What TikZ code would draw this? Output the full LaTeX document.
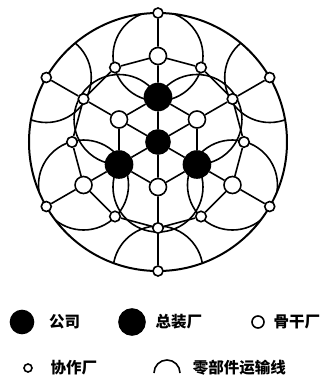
\documentclass[tikz,border=0pt]{standalone}
\usepackage{fontspec}
\newfontfamily\cjk{Noto Sans CJK SC}
\usetikzlibrary{positioning}
\newcommand\Clr{black}
\newcommand\Sz{10pt}
\tikzset{
  hub/.style={circle, draw, inner sep=0pt},
  lbl/.style={font=\cjk\bfseries\fontsize{15.5}{18}\selectfont, inner sep=2pt},
}

\begin{document}
\begin{tikzpicture}[x=1pt, y=1pt, line width=1.6pt]
  \useasboundingbox (-158,142) rectangle (169,-242);
  % transport lines
  \begin{scope}[even odd rule]
    \clip (0,0) circle (129) (30:45) -- (90:45) -- (150:45) -- (210:45) -- (270:45) -- (330:45) -- cycle;
    \foreach \a in {30,150,270}{
      \draw (\a:129) circle (45);
      \draw (\a:45) circle (45);
      \draw ({\a+60}:86) circle (45);
    }
  \end{scope}
  \draw[line width=2pt] (0,0) circle (129);
  % factories
  \node[hub, fill=black, minimum size=24pt] (c) at (0,0) {};
  \foreach \i in {1,...,6}{
    \ifodd\i
      \renewcommand\Clr{white}\renewcommand\Sz{17pt}
    \else
      \renewcommand\Clr{black}\renewcommand\Sz{27pt}
    \fi
    \node[hub, fill=\Clr, minimum size=\Sz] (h\i) at ({\i*60-30}:45) {};
    \node[hub, fill=white, minimum size=10pt] (o\i) at ({\i*60-30}:129) {};
  }
  \foreach \i in {1,...,12}{
    \ifnum\ifnum\i=3 1\else\ifnum\i=7 1\else\ifnum\i=11 1\else0\fi\fi\fi =1
      \renewcommand\Sz{17pt}
    \else
      \renewcommand\Sz{10.5pt}
    \fi
    \node[hub, fill=white, minimum size=\Sz] (m\i) at ({\i*30}:86) {};
  }
  \foreach \i in {1,...,6}{
    \pgfmathtruncatemacro\j{mod(\i,6)+1}
    \pgfmathtruncatemacro\k{2*\i-1}
    \draw (c) -- (h\i) (h\i) -- (h\j) (h\i) -- (m\k) (m\k) -- (o\i);
  }
  \foreach \i in {1,...,12}{
    \pgfmathtruncatemacro\j{mod(\i,12)+1}
    \draw (m\i) -- (m\j);
  }
  % legend
  \node[hub, fill=black, minimum size=23pt] (lgc) at (-136,-180) {};
  \node[lbl, right=12pt of lgc] (lgct) {公司};
  \node[hub, fill=black, minimum size=26pt] (lgz) at (-26,-180) {};
  \node[lbl, right=7pt of lgz] (lgzt) {总装厂};
  \node[hub, fill=white, minimum size=12pt] (lgg) at (100,-180) {};
  \node[lbl, right=6pt of lgg] (lggt) {骨干厂};
  \node[hub, fill=white, minimum size=8pt] (lgx) at (-130,-226) {};
  \node[lbl, right=15pt of lgx] (lgxt) {协作厂};
  \draw (-4,-231) arc[start angle=180, end angle=0, radius=13];
  \coordinate (lga) at (22,-226);
  \node[lbl, right=10pt of lga] (lgat) {零部件运输线};
\end{tikzpicture}
\end{document}
